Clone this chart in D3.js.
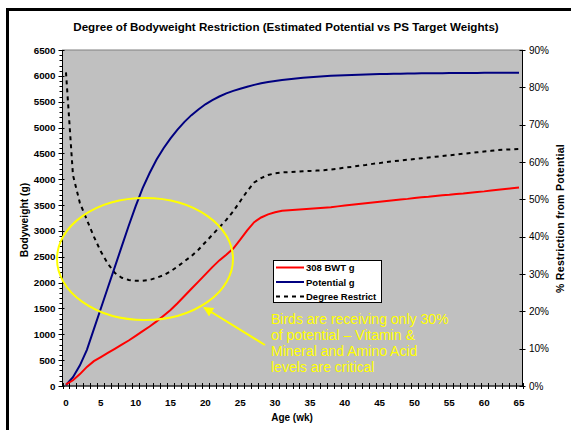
<!DOCTYPE html>
<html><head><meta charset="utf-8">
<script src="https://cdn.jsdelivr.net/npm/d3@7"></script>
<style>
html,body{margin:0;padding:0;background:#fff;}
svg{display:block;font-family:"Liberation Sans",Arial,sans-serif;}
</style></head>
<body>
<script>
// ---- data ----
const weeks = d3.range(0, 66);
const potential = [20,170,400,700,1100,1500,1900,2300,2700,3100,3480,3830,4120,4380,4600,4790,4960,5110,5240,5350,
  5450,5530,5600,5660,5710,5750,5790,5825,5855,5880,5900,5920,5935,5950,5962,5973,5983,5992,6000,6007,
  6013,6018,6023,6027,6031,6034,6037,6040,6042,6044,6046,6048,6050,6051,6052,6053,6054,6055,6056,6057,
  6058,6059,6060,6060,6061,6062];
const bwt308 = [30,110,230,370,480,560,640,720,800,880,970,1060,1150,1250,1360,1470,1600,1740,1880,2020,
  2160,2300,2430,2540,2660,2830,3010,3170,3260,3320,3360,3390,3400,3410,3420,3430,3440,3450,3460,3475,
  3490,3505,3520,3535,3550,3565,3580,3595,3610,3620,3635,3650,3660,3675,3690,3700,3715,3725,3740,3755,
  3765,3780,3795,3810,3825,3840];
const degreeRestrict = [0.84,0.565,0.49,0.445,0.40,0.36,0.328,0.303,0.29,0.284,0.282,0.282,0.284,0.29,0.297,0.307,0.32,0.334,0.348,0.365,
  0.385,0.405,0.425,0.445,0.468,0.495,0.522,0.545,0.557,0.565,0.57,0.572,0.573,0.574,0.575,0.576,0.577,0.578,0.58,0.582,
  0.585,0.587,0.59,0.592,0.595,0.597,0.60,0.602,0.604,0.606,0.608,0.61,0.612,0.614,0.616,0.618,0.62,0.622,0.624,0.626,
  0.628,0.63,0.632,0.633,0.634,0.635];
const leftTicks = d3.range(0, 6501, 500);
const rightTicks = d3.range(0, 0.91, 0.1);
const xLabelWeeks = d3.range(0, 66, 5);
const seriesNames = ["308 BWT g", "Potential g", "Degree Restrict"];
const noteLines = ["Birds are receiving only 30%", "of potential \u2013 Vitamin &", "Mineral and Amino Acid", "levels are critical"];
const titleText = "Degree of Bodyweight Restriction (Estimated Potential vs PS Target Weights)";

// ---- layout ----
const W = 571, H = 430;
const P = {l: 62.5, r: 522.5, t: 50, b: 386};
const svg = d3.select("body").append("svg").attr("width", W).attr("height", H);

// outer frame
svg.append("path").attr("d", `M7.5,${H+5} L7.5,9.5 L${W+5},9.5`).attr("fill","none").attr("stroke","#000").attr("stroke-width",3);

const x = d3.scaleBand().domain(weeks).range([P.l, P.r]);
const xc = w => x(w) + x.bandwidth()/2;
const yL = d3.scaleLinear().domain([0, 6500]).range([P.b, P.t]);
const yR = d3.scaleLinear().domain([0, 0.9]).range([P.b, P.t]);

// plot area
svg.append("rect").attr("x", P.l).attr("y", P.t).attr("width", P.r-P.l).attr("height", P.b-P.t)
  .attr("fill", "#c0c0c0").attr("stroke", "#808080").attr("stroke-width", 1);

// title
svg.append("text").attr("x", 286).attr("y", 31).attr("text-anchor","middle")
  .attr("font-size", 11.6).attr("font-weight","bold").text(titleText);

// left axis
const gL = svg.append("g");
gL.append("line").attr("x1",P.l).attr("x2",P.l).attr("y1",P.t).attr("y2",P.b).attr("stroke","#000");
gL.selectAll(".minor").data(d3.range(0, 6501, 100)).join("line")
  .attr("x1", P.l-3).attr("x2", P.l).attr("y1", d=>Math.round(yL(d))+0.5).attr("y2", d=>Math.round(yL(d))+0.5).attr("stroke","#000");
gL.selectAll(".major").data(leftTicks).join("line")
  .attr("x1", P.l-4).attr("x2", P.l+2).attr("y1", d=>Math.round(yL(d))+0.5).attr("y2", d=>Math.round(yL(d))+0.5).attr("stroke","#000");
gL.selectAll("text").data(leftTicks).join("text")
  .attr("x", 55.5).attr("y", d=>yL(d)+3.5).attr("text-anchor","end")
  .attr("font-size", 9.8).attr("font-weight","bold").text(d=>d);

// right axis
const gR = svg.append("g");
gR.append("line").attr("x1",P.r).attr("x2",P.r).attr("y1",P.t).attr("y2",P.b).attr("stroke","#000");
gR.selectAll("line.t").data(rightTicks).join("line").attr("class","t")
  .attr("x1", P.r-3).attr("x2", P.r+3).attr("y1", d=>Math.round(yR(d))+0.5).attr("y2", d=>Math.round(yR(d))+0.5).attr("stroke","#000");
gR.selectAll("text").data(rightTicks).join("text")
  .attr("x", 529).attr("y", d=>yR(d)+3.5)
  .attr("font-size", 10).text(d=>d3.format(".0%")(d));

// bottom axis
const gB = svg.append("g");
gB.append("line").attr("x1",P.l).attr("x2",P.r).attr("y1",P.b).attr("y2",P.b).attr("stroke","#000");
const bounds = weeks.map(w=>x(w)).concat([P.r]);
gB.selectAll("line.t").data(bounds).join("line").attr("class","t")
  .attr("x1", d=>Math.round(d)+0.5).attr("x2", d=>Math.round(d)+0.5).attr("y1", P.b-3).attr("y2", P.b+3).attr("stroke","#000");
gB.selectAll("text").data(xLabelWeeks).join("text")
  .attr("x", d=>xc(d)).attr("y", 406).attr("text-anchor","middle")
  .attr("font-size", 9.8).attr("font-weight","bold").text(d=>d);

// axis titles
svg.append("text").attr("x", 292).attr("y", 421).attr("text-anchor","middle")
  .attr("font-size", 10).attr("font-weight","bold").text("Age (wk)");
svg.append("text").attr("transform","translate(28,220) rotate(-90)").attr("text-anchor","middle")
  .attr("font-size", 10.3).attr("font-weight","bold").text("Bodyweight (g)");
svg.append("text").attr("transform","translate(564,218.5) rotate(-90)").attr("text-anchor","middle")
  .attr("font-size", 10.5).attr("font-weight","bold").attr("letter-spacing",0.3).text("% Restriction from Potential");

// series
const lineL = d3.line().x((d,i)=>xc(weeks[i])).y(d=>yL(d));
const lineR = d3.line().x((d,i)=>xc(weeks[i])).y(d=>yR(d));
svg.append("path").attr("d", lineR(degreeRestrict)).attr("fill","none").attr("stroke","#000")
  .attr("stroke-width",2).attr("stroke-dasharray","4,4");
svg.append("path").attr("d", lineL(potential)).attr("fill","none").attr("stroke","#000080").attr("stroke-width",2);
svg.append("path").attr("d", lineL(bwt308)).attr("fill","none").attr("stroke","#ff0000").attr("stroke-width",2);

// annotation ellipse + arrow
svg.append("ellipse").attr("cx",145).attr("cy",259).attr("rx",88).attr("ry",61)
  .attr("fill","none").attr("stroke","#ffff00").attr("stroke-width",2);
const defs = svg.append("defs");
defs.append("marker").attr("id","ah").attr("viewBox","0 0 10 10").attr("refX",9).attr("refY",5)
  .attr("markerWidth",5).attr("markerHeight",5).attr("orient","auto")
  .append("path").attr("d","M0,0 L10,5 L0,10 Z").attr("fill","#ffff00");
svg.append("line").attr("x1",265).attr("y1",345).attr("x2",204).attr("y2",307.5)
  .attr("stroke","#ffff00").attr("stroke-width",2).attr("marker-end","url(#ah)");

// legend
const lg = svg.append("g");
lg.append("rect").attr("x",273.5).attr("y",260.5).attr("width",108).attr("height",42)
  .attr("fill","#fff").attr("stroke","#000");
const lcol = ["#ff0000","#000080","#000"];
const ldash = [null,null,"4,4"];
seriesNames.forEach((n,i)=>{
  const yy = 267.5 + i*14.5;
  lg.append("line").attr("x1",276).attr("x2",304).attr("y1",yy).attr("y2",yy)
    .attr("stroke",lcol[i]).attr("stroke-width",2).attr("stroke-dasharray",ldash[i]);
  lg.append("text").attr("x",306).attr("y",yy+3.5).attr("font-size",9.5).attr("font-weight","bold").text(n);
});

// note text
svg.append("g").selectAll("text").data(noteLines).join("text")
  .attr("x",271).attr("y",(d,i)=>324+i*16).attr("font-size",14).attr("fill","#ffff00").text(d=>d);
</script>
</body></html>
